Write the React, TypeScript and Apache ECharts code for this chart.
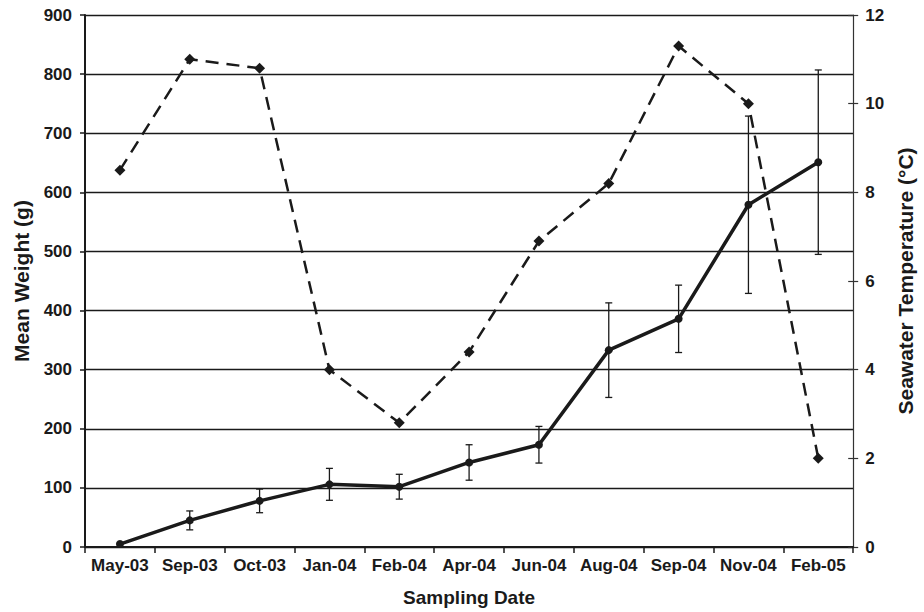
import React, { useEffect, useRef } from "react";
import * as echarts from "echarts";

const categories = ["May-03", "Sep-03", "Oct-03", "Jan-04", "Feb-04", "Apr-04", "Jun-04", "Aug-04", "Sep-04", "Nov-04", "Feb-05"];
const meanWeight = [5, 45, 78, 106, 102, 143, 173, 333, 386, 579, 651];
const weightErr = [0, 16, 20, 27, 21, 30, 31, 80, 57, 150, 156];
const temperature = [8.5, 11.0, 10.8, 4.0, 2.8, 4.4, 6.9, 8.2, 11.3, 10.0, 2.0];

const FONT = "'Liberation Sans', Arial, sans-serif";
const INK = "#1a1a1a";

export default function App() {
  const ref = useRef<HTMLDivElement>(null);
  useEffect(() => {
    if (!ref.current) return;
    const chart = echarts.init(ref.current, null, { renderer: "svg" });
    const errData = meanWeight
      .map((m, i) => [i, m - weightErr[i], m + weightErr[i]])
      .filter((_, i) => weightErr[i] > 0);
    const labelStyle = { fontFamily: FONT, fontWeight: "bold", fontSize: 17, color: INK };
    const nameStyle = { fontFamily: FONT, fontWeight: "bold", fontSize: 21, color: INK };
    chart.setOption({
      animation: false,
      backgroundColor: "#ffffff",
      grid: { left: 85, right: 59, top: 15, bottom: 64 },
      xAxis: {
        type: "category",
        data: categories,
        boundaryGap: true,
        name: "Sampling Date",
        nameLocation: "middle",
        nameGap: 41,
        nameTextStyle: { ...nameStyle, fontSize: 19 },
        axisLine: { lineStyle: { color: INK, width: 2 } },
        axisTick: { show: true, length: 6, alignWithLabel: false, lineStyle: { color: INK, width: 1.5 } },
        axisLabel: { ...labelStyle, margin: 10, interval: 0 },
        splitLine: { show: false },
      },
      yAxis: [
        {
          type: "value",
          min: 0,
          max: 900,
          interval: 100,
          position: "left",
          name: "Mean Weight (g)",
          nameLocation: "middle",
          nameRotate: 90,
          nameGap: 53,
          nameTextStyle: nameStyle,
          axisLine: { show: true, lineStyle: { color: INK, width: 2 } },
          axisTick: { show: true, length: 5, lineStyle: { color: INK, width: 1.5 } },
          axisLabel: { ...labelStyle, margin: 13 },
          splitLine: { show: true, lineStyle: { color: INK, width: 1.3 } },
        },
        {
          type: "value",
          min: 0,
          max: 12,
          interval: 2,
          position: "right",
          name: "Seawater Temperature (°C)",
          nameLocation: "middle",
          nameRotate: 90,
          nameGap: 36,
          nameTextStyle: nameStyle,
          axisLine: { show: true, lineStyle: { color: "#333", width: 1.2 } },
          axisTick: { show: true, length: 5, lineStyle: { color: "#333", width: 1.2 } },
          axisLabel: { ...labelStyle, margin: 12 },
          splitLine: { show: false },
        },
        {
          type: "value",
          min: 0,
          max: 12,
          interval: 2,
          position: "right",
          axisLine: { show: false },
          axisTick: { show: true, inside: true, length: 5, lineStyle: { color: "#333", width: 1.2 } },
          axisLabel: { show: false },
          splitLine: { show: false },
        },
      ],
      series: [
        {
          type: "custom",
          name: "err",
          xAxisIndex: 0,
          yAxisIndex: 0,
          data: errData,
          encode: { x: 0, y: [1, 2] },
          z: 1,
          renderItem: (params: any, api: any) => {
            const x = api.value(0);
            const lo = api.coord([x, api.value(1)]);
            const hi = api.coord([x, api.value(2)]);
            const hw = 3.5;
            const style = { stroke: INK, lineWidth: 1.3, fill: "none" };
            return {
              type: "group",
              children: [
                { type: "line", shape: { x1: lo[0], y1: lo[1], x2: hi[0], y2: hi[1] }, style },
                { type: "line", shape: { x1: hi[0] - hw, y1: hi[1], x2: hi[0] + hw, y2: hi[1] }, style },
                { type: "line", shape: { x1: lo[0] - hw, y1: lo[1], x2: lo[0] + hw, y2: lo[1] }, style },
              ],
            };
          },
        },
        {
          type: "line",
          name: "Mean Weight",
          yAxisIndex: 0,
          data: meanWeight,
          z: 3,
          symbol: "circle",
          symbolSize: 8,
          itemStyle: { color: INK },
          lineStyle: { color: INK, width: 3.5 },
        },
        {
          type: "line",
          name: "Temperature",
          yAxisIndex: 1,
          data: temperature,
          z: 2,
          symbol: "diamond",
          symbolSize: 11,
          itemStyle: { color: INK },
          lineStyle: { color: INK, width: 2.5, type: [13, 8] },
        },
      ],
    });
    return () => chart.dispose();
  }, []);
  return (
    <div
      ref={ref}
      style={{ position: "fixed", left: 0, top: 0, width: 924, height: 612, background: "#fff" }}
    />
  );
}
